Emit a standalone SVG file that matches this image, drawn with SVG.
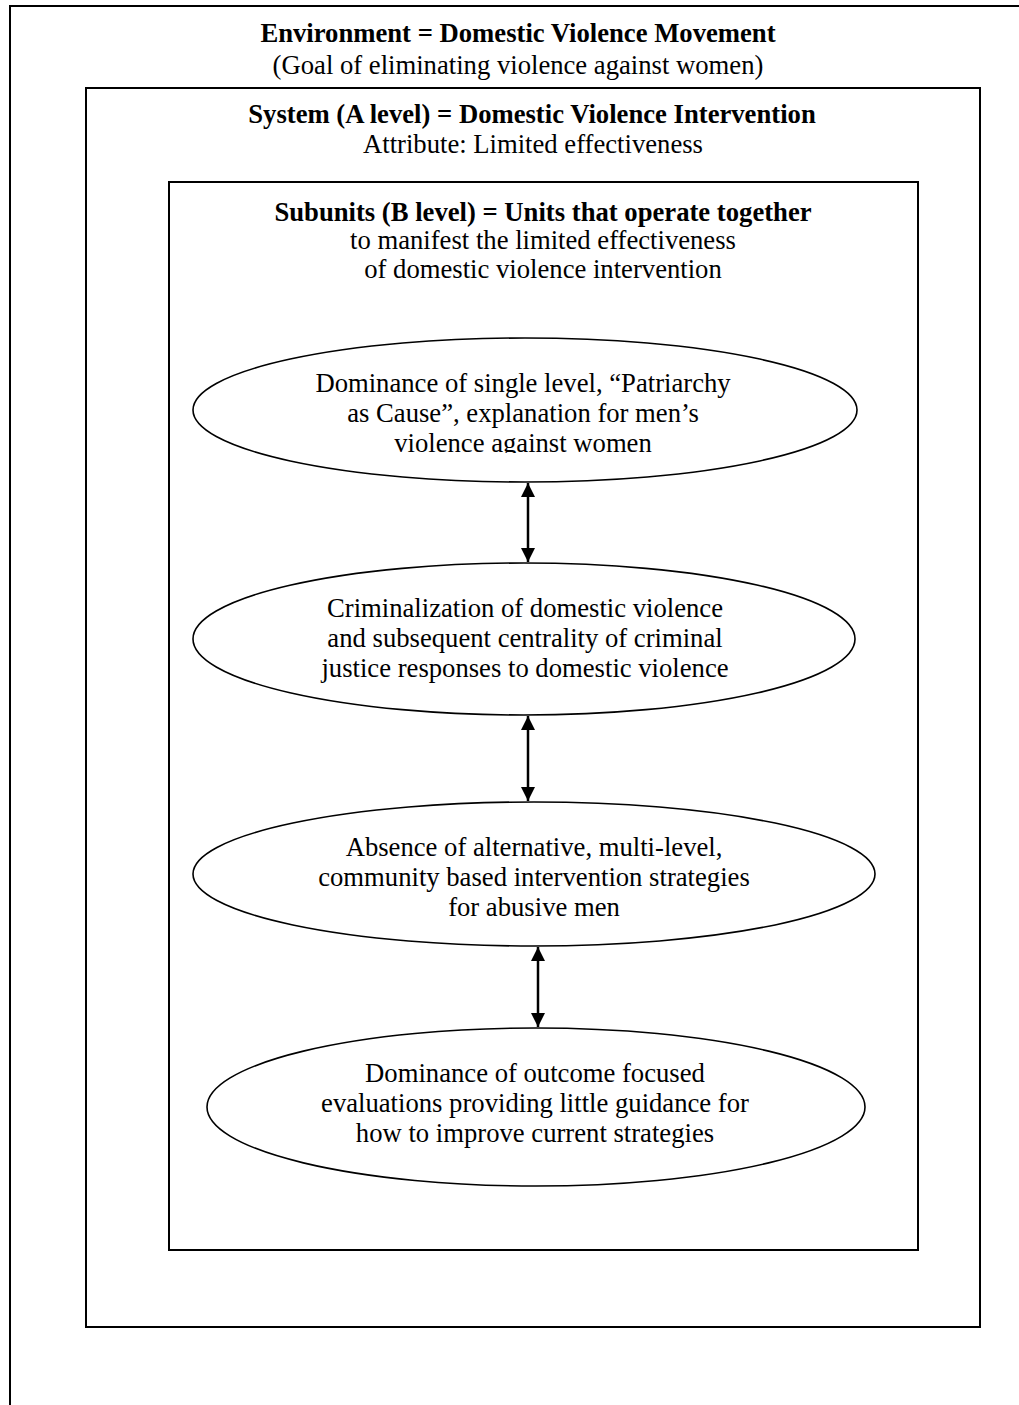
<svg xmlns="http://www.w3.org/2000/svg" width="1019" height="1405" viewBox="0 0 1019 1405">
<style>
.box{fill:none;stroke:#000;stroke-width:2}
.ell{fill:#fff;stroke:#000;stroke-width:1.6}
text{font-family:"Liberation Serif","Times New Roman",serif;font-size:26.67px;fill:#000;text-anchor:middle}
.b{font-weight:bold}
.conn{stroke:#000;stroke-width:2.5;fill:none}
</style>
<defs>
<marker id="ah" viewBox="0 0 14 14" refX="14" refY="7" markerWidth="14" markerHeight="14" orient="auto-start-reverse" markerUnits="userSpaceOnUse">
<path d="M0,0 L14,7 L0,14 z" fill="#000"/>
</marker>
<clipPath id="c1"><rect x="190" y="330" width="680" height="123"/></clipPath>
</defs>
<rect width="1019" height="1405" fill="#fff"/>
<g id="environment">
<rect class="box" x="10" y="6" width="1030" height="1430"/>
<text class="b" x="518" y="42">Environment = Domestic Violence Movement</text>
<text x="518" y="74">(Goal of eliminating violence against women)</text>
</g>
<g id="system">
<rect class="box" x="86" y="88" width="894" height="1239"/>
<text class="b" x="532" y="123">System (A level) = Domestic Violence Intervention</text>
<text x="533" y="153">Attribute: Limited effectiveness</text>
</g>
<g id="subunits">
<rect class="box" x="169" y="182" width="749" height="1068"/>
<text class="b" x="543" y="221">Subunits (B level) = Units that operate together</text>
<text x="543" y="249">to manifest the limited effectiveness</text>
<text x="543" y="278">of domestic violence intervention</text>
</g>
<g id="node1">
<ellipse class="ell" cx="525" cy="410" rx="332" ry="72"/>
<g clip-path="url(#c1)">
<text x="523" y="392">Dominance of single level, “Patriarchy</text>
<text x="523" y="422">as Cause”, explanation for men’s</text>
<text x="523" y="452">violence against women</text>
</g>
</g>
<g id="node2">
<ellipse class="ell" cx="524" cy="639" rx="331" ry="76"/>
<text x="525" y="617">Criminalization of domestic violence</text>
<text x="525" y="647">and subsequent centrality of criminal</text>
<text x="525" y="677">justice responses to domestic violence</text>
</g>
<g id="node3">
<ellipse class="ell" cx="534" cy="874" rx="341" ry="72"/>
<text x="534" y="856">Absence of alternative, multi-level,</text>
<text x="534" y="886">community based intervention strategies</text>
<text x="534" y="916">for abusive men</text>
</g>
<g id="node4">
<ellipse class="ell" cx="536" cy="1107" rx="329" ry="79"/>
<text x="535" y="1082">Dominance of outcome focused</text>
<text x="535" y="1112">evaluations providing little guidance for</text>
<text x="535" y="1142">how to improve current strategies</text>
</g>
<g id="connectors">
<line class="conn" x1="528" y1="483" x2="528" y2="562" marker-start="url(#ah)" marker-end="url(#ah)"/>
<line class="conn" x1="528" y1="716" x2="528" y2="801" marker-start="url(#ah)" marker-end="url(#ah)"/>
<line class="conn" x1="538" y1="947" x2="538" y2="1027" marker-start="url(#ah)" marker-end="url(#ah)"/>
</g>
</svg>
